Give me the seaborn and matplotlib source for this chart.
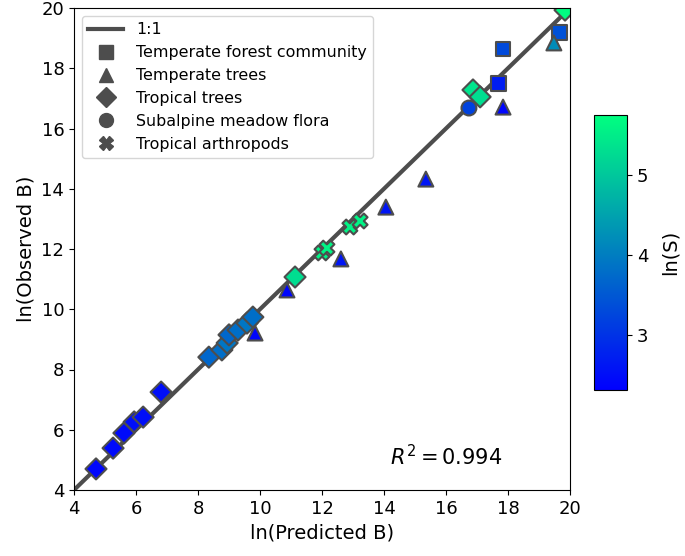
import numpy as np
import pandas as pd
import matplotlib
matplotlib.use("Agg")
import matplotlib.pyplot as plt
import seaborn as sns
from matplotlib.lines import Line2D

# data
groups = ["Temperate forest community", "Temperate trees", "Tropical trees",
          "Subalpine meadow flora", "Tropical arthropods"]
markers = {"Temperate forest community": "s", "Temperate trees": "^",
           "Tropical trees": "D", "Subalpine meadow flora": "o",
           "Tropical arthropods": "X"}

forest_pred = [17.68, 17.84, 19.65]
forest_obs = [17.48, 18.64, 19.20]
forest_lnS = [2.7, 3.3, 3.4]

temp_pred = [9.84, 10.87, 12.61, 14.06, 15.35, 17.84, 19.48]
temp_obs = [9.21, 10.64, 11.67, 13.39, 14.32, 16.71, 18.84]
temp_lnS = [2.4, 2.4, 2.6, 2.6, 2.6, 2.4, 4.2]

trop_pred = [4.71, 5.26, 5.61, 5.94, 6.23, 6.81, 8.35, 8.77, 8.94, 9.0,
             9.29, 9.58, 9.77, 11.13, 16.87, 17.1, 19.84]
trop_obs = [4.70, 5.39, 5.89, 6.26, 6.42, 7.25, 8.41, 8.65, 8.88, 9.15,
            9.31, 9.54, 9.74, 11.07, 17.28, 17.05, 19.93]
trop_lnS = [2.4, 2.45, 2.45, 2.5, 2.5, 2.5, 3.7, 3.8, 3.9, 3.7,
            3.8, 3.9, 3.8, 5.3, 5.4, 5.3, 5.7]

alp_pred = [16.74]
alp_obs = [16.68]
alp_lnS = [3.2]

arth_pred = [12.0, 12.16, 12.9, 13.23]
arth_obs = [11.87, 12.03, 12.73, 12.93]
arth_lnS = [5.6, 5.6, 5.6, 5.6]

frames = []
for g, p, o, s in zip(groups,
                      [forest_pred, temp_pred, trop_pred, alp_pred, arth_pred],
                      [forest_obs, temp_obs, trop_obs, alp_obs, arth_obs],
                      [forest_lnS, temp_lnS, trop_lnS, alp_lnS, arth_lnS]):
    frames.append(pd.DataFrame({"pred": p, "obs": o, "lnS": s, "group": g}))
df = pd.concat(frames, ignore_index=True)

vmin, vmax = 2.31, 5.75
norm = plt.Normalize(vmin, vmax)
cmap = plt.get_cmap("winter")

fig = plt.figure(figsize=(6.85, 5.56), dpi=100)
ax = fig.add_axes([74 / 685, 66 / 556, 496 / 685, 482 / 556])
cax = fig.add_axes([594 / 685, 166 / 556, 33 / 685, 275 / 556])

ax.plot([4, 20], [4, 20], color="#4d4d4d", lw=3, zorder=1)

sns.scatterplot(data=df, x="pred", y="obs", hue="lnS", style="group",
                markers=markers, palette="winter", hue_norm=norm,
                s=115, edgecolor="#4d4d4d", linewidth=1.5, legend=False,
                ax=ax, zorder=2)

ax.set_xlim(4, 20)
ax.set_ylim(4, 20)
ax.set_xticks(range(4, 21, 2))
ax.set_yticks(range(4, 21, 2))
ax.tick_params(labelsize=13)
ax.set_xlabel("ln(Predicted B)", fontsize=14)
ax.set_ylabel("ln(Observed B)", fontsize=14)

ax.text(14.2, 5.1, r"$R^2 = 0.994$", fontsize=15, va="center")

handles = [Line2D([], [], color="#4d4d4d", lw=3, label="1:1")]
for g in groups:
    handles.append(Line2D([], [], ls="", marker=markers[g], color="#4d4d4d",
                          markersize=10, label=g))
ax.legend(handles=handles, loc="upper left", fontsize=11.4,
          handlelength=2.2, borderaxespad=0.5)

sm = matplotlib.cm.ScalarMappable(norm=norm, cmap=cmap)
cb = fig.colorbar(sm, cax=cax)
cb.set_ticks([3, 4, 5])
cb.ax.tick_params(labelsize=13)
cb.set_label("ln(S)", fontsize=14, labelpad=9)

fig.savefig("out.png", dpi=100)
